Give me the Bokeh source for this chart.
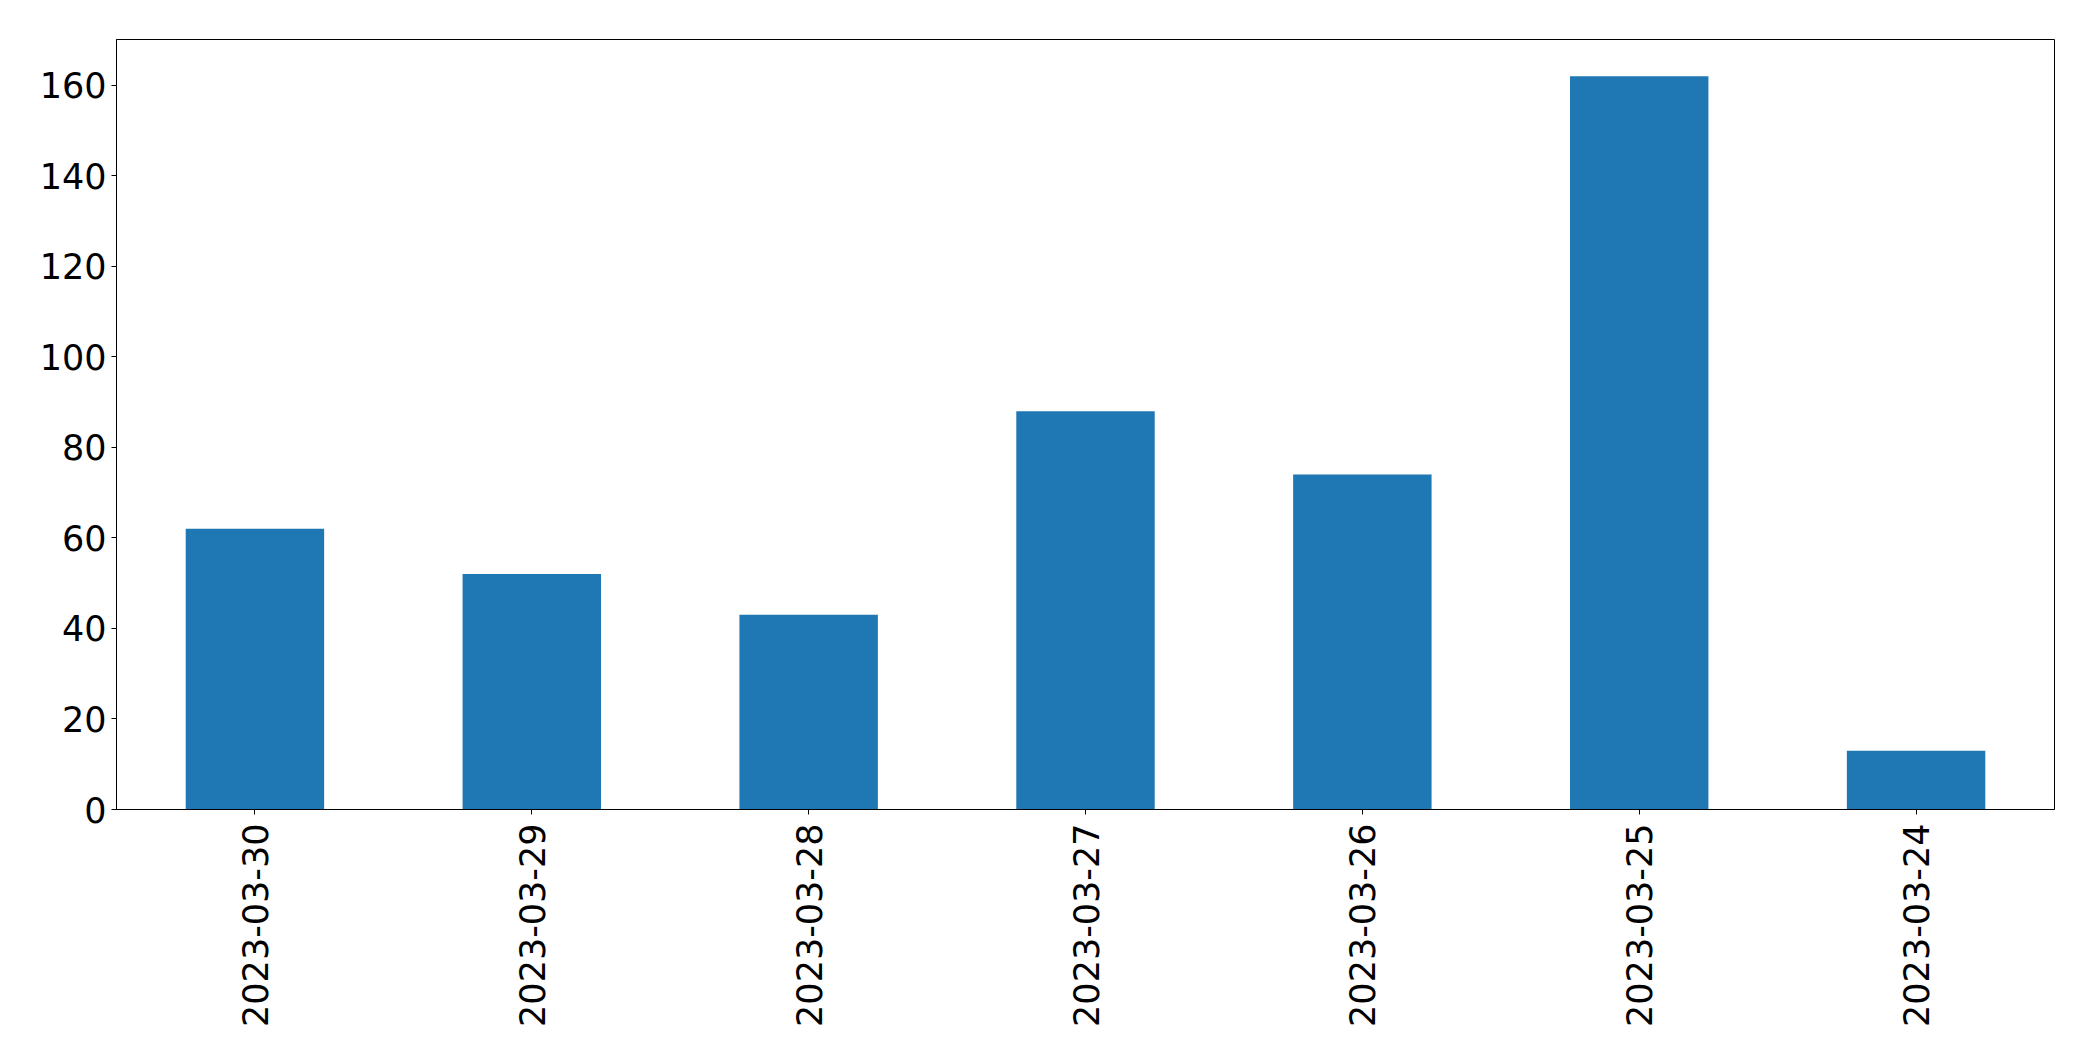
import math
from bokeh.plotting import figure
from bokeh.models import FactorRange, Range1d, FixedTicker
from bokeh.embed import file_html
from bokeh.resources import INLINE

dates = ["2023-03-30", "2023-03-29", "2023-03-28", "2023-03-27",
         "2023-03-26", "2023-03-25", "2023-03-24"]
counts = [62, 52, 43, 88, 74, 162, 13]
y_ticks = [0, 20, 40, 60, 80, 100, 120, 140, 160]

FONT = "DejaVu Sans"
FS = "35px"

p = figure(
    width=2093, height=1061,
    x_range=FactorRange(*dates, range_padding=0),
    y_range=Range1d(0, 170.1),
    output_backend="svg", toolbar_location=None,
    min_border_left=116, min_border_right=39,
    min_border_top=39, min_border_bottom=252,
)

p.vbar(x=dates, top=counts, width=0.5, color="#1f77b4", line_color=None)

p.xgrid.visible = False
p.ygrid.visible = False
p.outline_line_color = "black"
p.outline_line_width = 1
p.outline_line_alpha = 1

for ax in (p.xaxis[0], p.yaxis[0]):
    ax.axis_line_color = "black"
    ax.axis_line_width = 1
    ax.major_tick_line_color = "black"
    ax.major_tick_out = 5
    ax.major_tick_in = 0
    ax.minor_tick_line_color = None
    ax.major_label_text_font = FONT
    ax.major_label_text_font_size = FS
    ax.major_label_text_color = "black"

p.yaxis[0].ticker = FixedTicker(ticks=y_ticks)
p.yaxis[0].major_label_standoff = 5
p.xaxis[0].major_label_orientation = math.pi / 2
p.xaxis[0].major_label_standoff = 9

open("out.html", "w").write(file_html(p, INLINE))
